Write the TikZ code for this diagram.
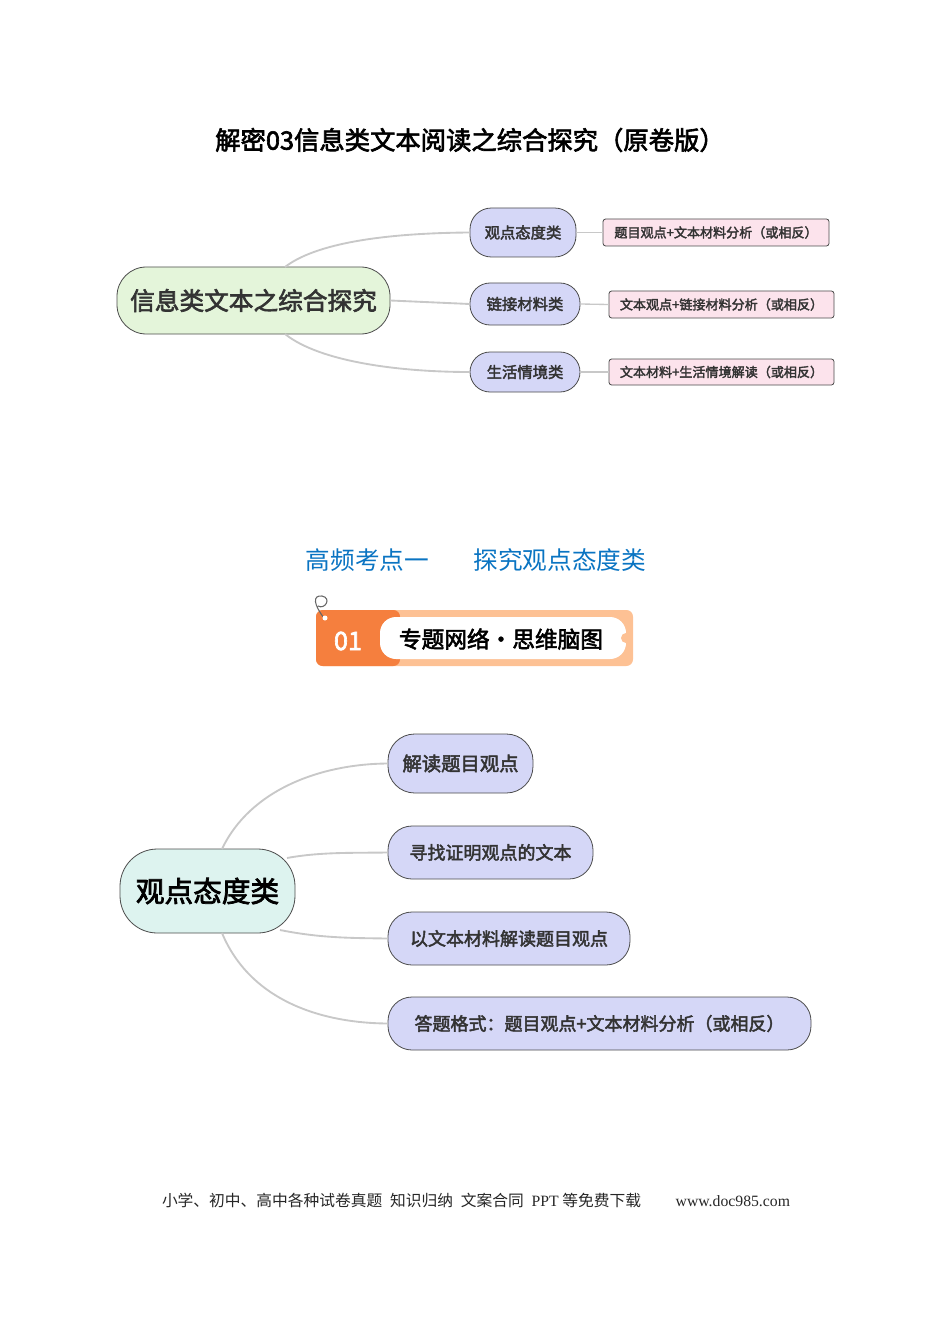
\documentclass[tikz,border=0pt]{standalone}
\usepackage{fontspec}
\setmainfont{Noto Sans CJK SC}[AutoFakeBold=2.5]
\newfontfamily\ftserif{Liberation Serif}
\usetikzlibrary{positioning}
\definecolor{lineg}{HTML}{C8C8C8}
\definecolor{bluen}{HTML}{D5D7F7}
\definecolor{pinkn}{HTML}{FCE3EC}
\definecolor{greenn}{HTML}{E4F5DA}
\definecolor{tealn}{HTML}{DDF3EF}
\definecolor{headblue}{HTML}{0A74C2}
\definecolor{orgd}{HTML}{F57F3E}
\definecolor{orgl}{HTML}{FDC194}
\begin{document}
\begin{tikzpicture}[x=0.75pt,y=-0.75pt,
  box/.style={draw=black!70,line width=0.6pt,rounded corners=#1,inner sep=0pt,font=\bfseries,text=black!80},
  conn/.style={draw=lineg,line width=1.4pt}]
\useasboundingbox (0,0) rectangle (950,1344);
\node[font=\bfseries\fontsize{19}{22}\selectfont] (title) at (470,140) {解密03信息类文本阅读之综合探究（原卷版）};
% map 1
\node[box=22pt,fill=greenn,minimum width=273*0.75pt,minimum height=67*0.75pt,font=\bfseries\fontsize{18.5}{20}\selectfont] (r1) at (253.5,300.5) {信息类文本之综合探究};
\node[box=16pt,fill=bluen,minimum width=106*0.75pt,minimum height=49*0.75pt,font=\bfseries\fontsize{11.5}{13}\selectfont] (a1) at (523,232.5) {观点态度类};
\node[box=15pt,fill=bluen,minimum width=110*0.75pt,minimum height=42*0.75pt,font=\bfseries\fontsize{11.5}{13}\selectfont] (a2) at (525,304) {链接材料类};
\node[box=15pt,fill=bluen,minimum width=110*0.75pt,minimum height=40*0.75pt,font=\bfseries\fontsize{11.5}{13}\selectfont] (a3) at (525,372) {生活情境类};
\node[box=2pt,fill=pinkn,minimum width=226*0.75pt,minimum height=27*0.75pt,font=\bfseries\fontsize{9.8}{11}\selectfont] (b1) at (716,232.5) {题目观点+文本材料分析（或相反）};
\node[box=2pt,fill=pinkn,minimum width=225*0.75pt,minimum height=27*0.75pt,font=\bfseries\fontsize{9.8}{11}\selectfont] (b2) at (721.5,304.5) {文本观点+链接材料分析（或相反）};
\node[box=2pt,fill=pinkn,minimum width=225*0.75pt,minimum height=26*0.75pt,font=\bfseries\fontsize{9.8}{11}\selectfont] (b3) at (721.5,372) {文本材料+生活情境解读（或相反）};
\draw[conn] (285,267) .. controls (320,240) and (400,233) .. (a1.west);
\draw[conn] (r1.east) -- (a2.west);
\draw[conn] (285,334) .. controls (320,362) and (400,372) .. (a3.west);
\draw[conn,line width=1pt] (a1.east) -- (b1.west);
\draw[conn,line width=1pt] (a2.east) -- (b2.west);
\draw[conn,line width=1pt] (a3.east) -- (b3.west);
% heading
\node[text=headblue,font=\fontsize{18.5}{22}\selectfont] (h) at (476,560) {高频考点一\hspace{1.8em}探究观点态度类};
% banner
\fill[orgl,rounded corners=5pt] (316,610) rectangle (633,666);
\fill[orgd,rounded corners=5pt] (316,610) rectangle (400,666);
\fill[white,rounded corners=12pt] (380,617) rectangle (626,659);
\fill[orgl] (626,638) circle (5);
\node[text=white,font=\bfseries\fontsize{19}{22}\selectfont] (n01) at (348,641) {01};
\node[font=\bfseries\fontsize{17}{20}\selectfont] (bt) at (501,639) {专题网络·思维脑图};
\draw[black!60,line width=0.8pt] (324,618) .. controls (314,605) and (312,595) .. (322,596) .. controls (332,598) and (325,610) .. (318,606);
\fill[white] (325,618) circle (2.5);
% map 2
\node[box=28pt,fill=tealn,minimum width=175*0.75pt,minimum height=84*0.75pt,font=\bfseries\fontsize{21.5}{24}\selectfont,text=black] (r2) at (207.5,891) {观点态度类};
\node[box=20pt,fill=bluen,minimum width=145*0.75pt,minimum height=59*0.75pt,font=\bfseries\fontsize{14.5}{16}\selectfont] (c1) at (460.5,763.5) {解读题目观点};
\node[box=18pt,fill=bluen,minimum width=205*0.75pt,minimum height=53*0.75pt,font=\bfseries\fontsize{13.5}{16}\selectfont] (c2) at (490.5,852.5) {寻找证明观点的文本};
\node[box=18pt,fill=bluen,minimum width=242*0.75pt,minimum height=53*0.75pt,font=\bfseries\fontsize{13.5}{16}\selectfont] (c3) at (509,938.5) {以文本材料解读题目观点};
\node[box=18pt,fill=bluen,minimum width=423*0.75pt,minimum height=53*0.75pt,font=\bfseries\fontsize{13.5}{16}\selectfont] (c4) at (599.5,1023.5) {答题格式：题目观点+文本材料分析（或相反）};
\draw[conn] (222,849) .. controls (250,790) and (320,764) .. (c1.west);
\draw[conn] (287,858) .. controls (320,852) and (350,853) .. (c2.west);
\draw[conn] (280,930) .. controls (320,938) and (350,938) .. (c3.west);
\draw[conn] (222,933) .. controls (250,1000) and (320,1023) .. (c4.west);
% footer
\node[font=\fontsize{11.8}{13}\selectfont,text=black!85] (f) at (476,1200) {小学、初中、高中各种试卷真题\hspace{0.5em}知识归纳\hspace{0.5em}文案合同\hspace{0.5em}{\ftserif PPT} 等免费下载\hspace{2.2em}{\ftserif www.doc985.com}};
\end{tikzpicture}
\end{document}
